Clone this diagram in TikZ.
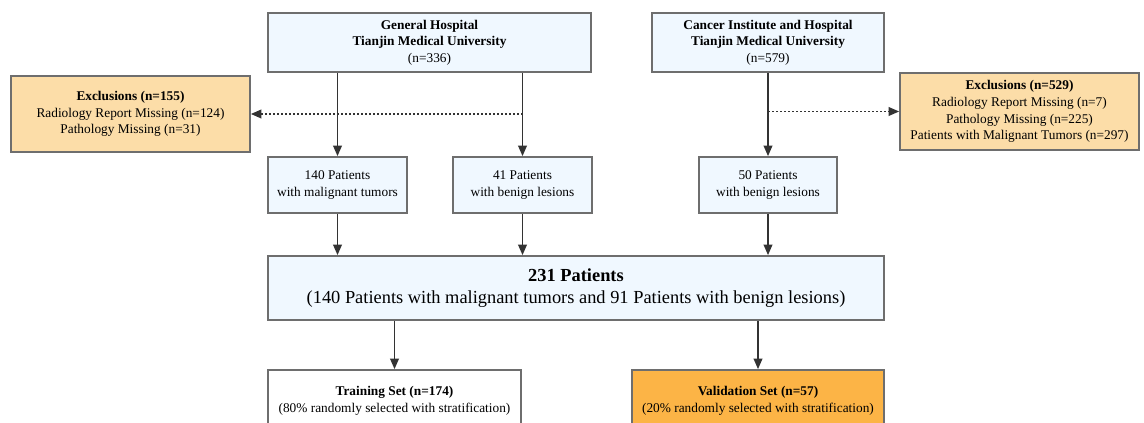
\documentclass[tikz,border=0pt]{standalone}
\usepackage{fontspec}
\setmainfont{Liberation Serif}
\usetikzlibrary{arrows.meta}
\definecolor{boxblue}{HTML}{F0F8FF}
\definecolor{boxline}{HTML}{6E6E6E}
\definecolor{exclfill}{HTML}{FCDDA8}
\definecolor{valfill}{HTML}{FCB446}

\begin{document}
\begin{tikzpicture}[x=0.75pt,y=-0.75pt,
  box/.style n args={3}{draw=boxline,line width=1.2pt,fill=#1,minimum width=#2*0.75pt,minimum height=#3*0.75pt,inner sep=0pt,align=center,font=\fontsize{10}{12.5}\selectfont},
  flow/.style={-{Triangle[length=8pt,width=6.5pt]},line width=1.4pt,draw=black!80},
  excl/.style={flow,dash pattern=on 1.4pt off 1.6pt}]
\useasboundingbox (0,0) rectangle (1144,423);
\clip (0,0) rectangle (1144,423);
% sources
\node[box={boxblue}{323}{59}] (gh) at (429.5,42.5) {\textbf{General Hospital}\\\textbf{Tianjin Medical University}\\(n=336)};
\node[box={boxblue}{232}{59}] (ci) at (768,42.5) {\textbf{Cancer Institute and Hospital}\\\textbf{Tianjin Medical University}\\(n=579)};
% exclusions
\node[box={exclfill}{239}{76}] (exl) at (130.5,114) {\textbf{Exclusions (n=155)}\\Radiology Report Missing (n=124)\\Pathology Missing (n=31)};
\node[box={exclfill}{239}{77}] (exr) at (1019.5,111.5) {\textbf{Exclusions (n=529)}\\Radiology Report Missing (n=7)\\Pathology Missing (n=225)\\Patients with Malignant Tumors (n=297)};
% groups
\node[box={boxblue}{139}{56}] (p140) at (337.5,185) {140 Patients\\with malignant tumors};
\node[box={boxblue}{139}{56}] (p41) at (522.5,185) {41 Patients\\with benign lesions};
\node[box={boxblue}{138}{56}] (p50) at (768,185) {50 Patients\\with benign lesions};
\node[box={boxblue}{616}{64},font=\fontsize{13.8}{17}\selectfont] (all) at (576,288) {\textbf{231 Patients}\\(140 Patients with malignant tumors and 91 Patients with benign lesions)};
% split
\node[box={white}{253}{62}] (train) at (394.5,401) {\textbf{Training Set (n=174)}\\(80\% randomly selected with stratification)};
\node[box={valfill}{252}{62}] (val) at (758,401) {\textbf{Validation Set (n=57)}\\(20\% randomly selected with stratification)};

\draw[flow] (p140 |- gh.south) -- (p140.north);
\draw[flow] (p41 |- gh.south) -- (p41.north);
\draw[flow] (ci) -- (p50);
\coordinate (lsplit) at (p41 |- exl.east);
\coordinate (rsplit) at (p50 |- exr.west);
\draw[excl] (lsplit) -- (exl.east);
\draw[excl] (rsplit) -- (exr.west);
\foreach \g in {p140,p41,p50}
  \draw[flow] (\g) -- (\g |- all.north);
\foreach \s in {train,val}
  \draw[flow] (\s |- all.south) -- (\s);
\end{tikzpicture}
\end{document}
